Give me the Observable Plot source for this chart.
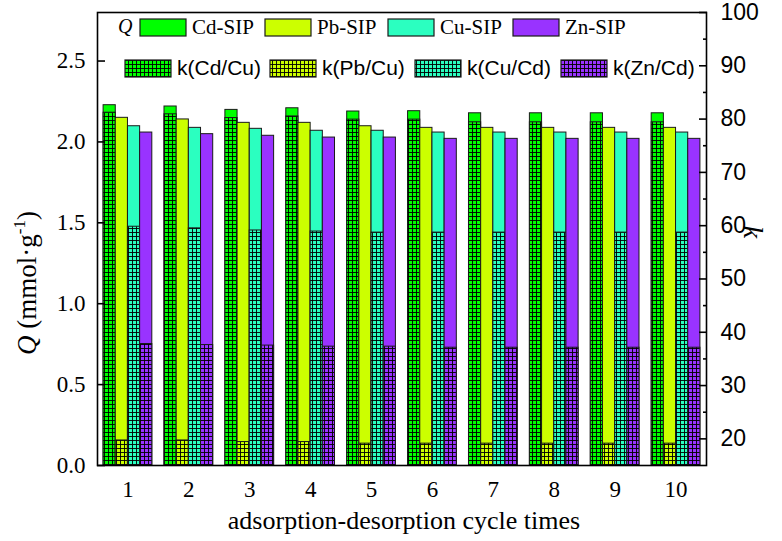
<!DOCTYPE html>
<html><head><meta charset="utf-8">
<script src="https://cdn.jsdelivr.net/npm/d3@7"></script>
<script src="https://cdn.jsdelivr.net/npm/@observablehq/plot@0.6"></script>
<style>
body{margin:0;background:#fff;}
#chart{position:relative;width:782px;height:541px;}
</style></head><body><div id="chart"></div>
<script>
const cycles = [1,2,3,4,5,6,7,8,9,10];
const qCd = [2.227,2.219,2.198,2.208,2.188,2.190,2.177,2.177,2.177,2.177];
const qPb = [2.149,2.139,2.118,2.118,2.097,2.087,2.087,2.087,2.087,2.087];
const qCu = [2.097,2.087,2.081,2.069,2.069,2.058,2.058,2.058,2.058,2.058];
const qZn = [2.058,2.048,2.038,2.027,2.027,2.019,2.019,2.019,2.019,2.019];
const kCdCu = [81.2,80.9,80.2,80.5,79.9,79.9,79.4,79.4,79.4,79.4];
const kPbCu = [19.7,19.7,19.4,19.4,19.1,19.1,19.1,19.1,19.1,19.1];
const kCuCd = [59.8,59.5,59.1,58.9,58.7,58.7,58.7,58.7,58.7,58.7];
const kZnCd = [37.8,37.6,37.5,37.3,37.3,37.1,37.1,37.1,37.1,37.1];
const qTicks = [0,0.5,1,1.5,2,2.5];
const kTicks = [20,30,40,50,60,70,80,90,100];
const kMinorTicks = [25,35,45,55,65,75,85,95];
const qNames = ["Cd-SIP","Pb-SIP","Cu-SIP","Zn-SIP"];
const kNames = ["k(Cd/Cu)","k(Pb/Cu)","k(Cu/Cd)","k(Zn/Cd)"];
const colors = ["#00ff00","#ccff00","#2bffc0","#9933ff"];

const kMin = 15, kMax = 100, qMax = 2.8;
const toQ = k => (k - kMin) / (kMax - kMin) * qMax;
const toK = q => kMin + q / qMax * (kMax - kMin);
const qSeries = [qCd, qPb, qCu, qZn];
const kSeries = [kCdCu, kPbCu, kCuCd, kZnCd];
const groupWidth = 0.8, barWidth = groupWidth / qNames.length;
const rows = qNames.map((s, i) => cycles.map((c, j) => ({
  cycle: c,
  x1: c - groupWidth / 2 + i * barWidth,
  x2: c - groupWidth / 2 + (i + 1) * barWidth,
  q: qSeries[i][j],
  kq: toQ(kSeries[i][j])
})));

const SERIF = "Liberation Serif, Times New Roman, serif";
const SANS = "Liberation Sans, Arial, sans-serif";

const marks = [];
rows.forEach((r, i) => {
  marks.push(Plot.rect(r, {x1: "x1", x2: "x2", y1: () => 0, y2: "q", fill: colors[i], stroke: "#1a1a1a", strokeWidth: 1}));
  marks.push(Plot.rect(r, {x1: "x1", x2: "x2", y1: () => 0, y2: "kq", fill: `url(#pat${i})`, stroke: "#1a1a1a", strokeWidth: 1}));
});
marks.push(Plot.frame({stroke: "#000", strokeWidth: 1.6}));
marks.push(Plot.axisY(qTicks, {anchor: "left", tickSize: -8, tickPadding: 20, strokeWidth: 1.6, fontSize: 23, fontFamily: SERIF, tickFormat: d3.format(".1f"), label: null}));
marks.push(Plot.axisY(kTicks.map(toQ), {anchor: "right", tickSize: -8, tickPadding: 22, strokeWidth: 1.6, fontSize: 23, fontFamily: SANS, tickFormat: q => Math.round(toK(q)), label: null}));
marks.push(Plot.axisY(kMinorTicks.map(toQ), {anchor: "right", tickSize: -4, text: null, strokeWidth: 1.6, label: null}));
marks.push(Plot.axisX(cycles, {anchor: "bottom", tickSize: 0, tickPadding: 15, fontSize: 23, fontFamily: SERIF, label: null}));

const plot = Plot.plot({
  width: 782, height: 541,
  marginLeft: 97, marginRight: 76, marginTop: 12, marginBottom: 76,
  x: {domain: [0.5, 10.5], axis: null},
  y: {domain: [0, qMax], axis: null},
  style: {background: "#fff", color: "#000", fontFamily: SERIF, overflow: "visible"},
  marks
});
document.getElementById("chart").appendChild(plot);

const svg = d3.select(plot);
// patterns
const defs = svg.insert("defs", ":first-child");
colors.forEach((c, i) => {
  const p = defs.append("pattern").attr("id", `pat${i}`).attr("patternUnits", "userSpaceOnUse")
    .attr("width", 4).attr("height", 4);
  p.append("rect").attr("width", 4).attr("height", 4).attr("fill", c);
  p.append("path").attr("d", "M0 0.5H4M0.5 0V4").attr("stroke", "#000").attr("stroke-opacity", 0.9).attr("stroke-width", 1).attr("fill", "none");
});

// legend
const lg = svg.append("g").attr("text-anchor", "start");
lg.append("text").attr("x", 118).attr("y", 33).attr("font-family", SERIF).attr("font-style", "italic").attr("font-size", 20).text("Q");
const row1X = [140, 265, 388, 513];
const row2X = [125, 270, 415, 561];
qNames.forEach((n, i) => {
  lg.append("rect").attr("x", row1X[i]).attr("y", 19).attr("width", 46).attr("height", 17).attr("fill", colors[i]).attr("stroke", "#1a1a1a").attr("stroke-width", 1.2);
  lg.append("text").attr("x", row1X[i] + 52).attr("y", 34).attr("font-family", SERIF).attr("font-size", 21).text(n);
});
kNames.forEach((n, i) => {
  lg.append("rect").attr("x", row2X[i]).attr("y", 60).attr("width", 46).attr("height", 17).attr("fill", `url(#pat${i})`).attr("stroke", "#1a1a1a").attr("stroke-width", 1.2);
  lg.append("text").attr("x", row2X[i] + 52).attr("y", 75).attr("font-family", SANS).attr("font-size", 21).text(n);
});

// axis titles
svg.append("text").attr("x", 404).attr("y", 529).attr("text-anchor", "middle").attr("font-family", SERIF).attr("font-size", 26).text("adsorption-desorption cycle times");
const yt = svg.append("text").attr("transform", "translate(36,283) rotate(-90)").attr("text-anchor", "middle").attr("font-family", SERIF).attr("font-size", 27);
yt.append("tspan").attr("font-style", "italic").text("Q");
yt.append("tspan").text(" (mmol·g");
yt.append("tspan").attr("font-size", 17).attr("dy", -11).text("-1");
yt.append("tspan").attr("dy", 11).text(")");
svg.append("text").attr("transform", "translate(744,232) rotate(90)").attr("text-anchor", "middle").attr("font-family", SERIF).attr("font-style", "italic").attr("font-size", 28).text("k");
</script></body></html>
